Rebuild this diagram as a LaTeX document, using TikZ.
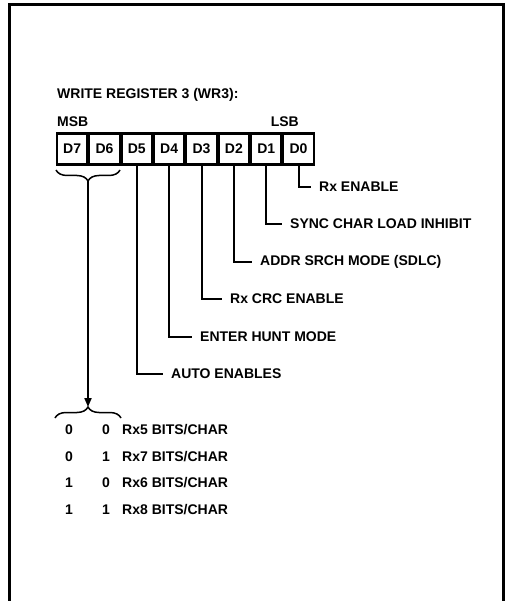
\documentclass[tikz,border=0pt]{standalone}
\usepackage{fontspec}
\setmainfont{Liberation Sans}
\usetikzlibrary{arrows.meta, positioning, decorations.pathreplacing}

\begin{document}
\begin{tikzpicture}[x=1pt, y=1pt,
    font=\fontsize{14}{16}\selectfont\bfseries,
    regbox/.style={draw, line width=2.1pt, minimum width=30.25pt,
                   minimum height=31pt, inner sep=0pt},
    leader/.style={line width=2pt},
    lbl/.style={anchor=west, inner sep=0pt},
    bitval/.style={inner sep=0pt},
    klammer/.style={decorate, decoration={brace, amplitude=11pt}, line width=1.5pt}
  ]
    \useasboundingbox (0,0) rectangle (509,-601);
    \draw[line width=3pt] (9,-601) -- (9,-5) -- (503,-5) -- (503,-601);

    \node[lbl] (titel) at (57,-95) {WRITE REGISTER 3 (WR3):};
    \node[lbl] (msb) at (57,-122) {MSB};
    \node[anchor=east, inner sep=0pt] (lsb) at (299,-122) {LSB};

    \node[regbox] (d7) at (72.1,-149) {D7};
    \node[regbox, right=0pt of d7] (d6) {D6};
    \node[regbox, right=0pt of d6] (d5) {D5};
    \node[regbox, right=0pt of d5] (d4) {D4};
    \node[regbox, right=0pt of d4] (d3) {D3};
    \node[regbox, right=0pt of d3] (d2) {D2};
    \node[regbox, right=0pt of d2] (d1) {D1};
    \node[regbox, right=0pt of d1] (d0) {D0};

    \node[lbl] (l0) at (319,-187) {Rx ENABLE};
    \node[lbl] (l1) at (290,-224) {SYNC CHAR LOAD INHIBIT};
    \node[lbl] (l2) at (260,-262) {ADDR SRCH MODE (SDLC)};
    \node[lbl] (l3) at (230,-299) {Rx CRC ENABLE};
    \node[lbl] (l4) at (200,-337) {ENTER HUNT MODE};
    \node[lbl] (l5) at (171,-374) {AUTO ENABLES};
    \draw[leader] (d0.south) |- ([xshift=-8pt]l0.west);
    \draw[leader] (d1.south) |- ([xshift=-8pt]l1.west);
    \draw[leader] (d2.south) |- ([xshift=-8pt]l2.west);
    \draw[leader] (d3.south) |- ([xshift=-8pt]l3.west);
    \draw[leader] (d4.south) |- ([xshift=-8pt]l4.west);
    \draw[leader] (d5.south) |- ([xshift=-8pt]l5.west);

    \draw[klammer, decoration={mirror}] (56,-170) -- (120,-170);
    \draw[klammer] (55,-418) -- (121,-418);
    \coordinate (oben) at (88,-181);
    \coordinate (unten) at (88,-407);
    \draw[leader, -{Triangle[length=9pt, width=7pt]}] (oben) -- (unten);

    \node[bitval] (a1) at (69,-430) {0};
    \node[bitval] (b1) at (106,-430) {0};
    \node[lbl] (r1) at (122,-430) {Rx5 BITS/CHAR};
    \node[bitval] (a2) at (69,-457) {0};
    \node[bitval] (b2) at (106,-457) {1};
    \node[lbl] (r2) at (122,-457) {Rx7 BITS/CHAR};
    \node[bitval] (a3) at (69,-483) {1};
    \node[bitval] (b3) at (106,-483) {0};
    \node[lbl] (r3) at (122,-483) {Rx6 BITS/CHAR};
    \node[bitval] (a4) at (69,-510) {1};
    \node[bitval] (b4) at (106,-510) {1};
    \node[lbl] (r4) at (122,-510) {Rx8 BITS/CHAR};
  \end{tikzpicture}
\end{document}
